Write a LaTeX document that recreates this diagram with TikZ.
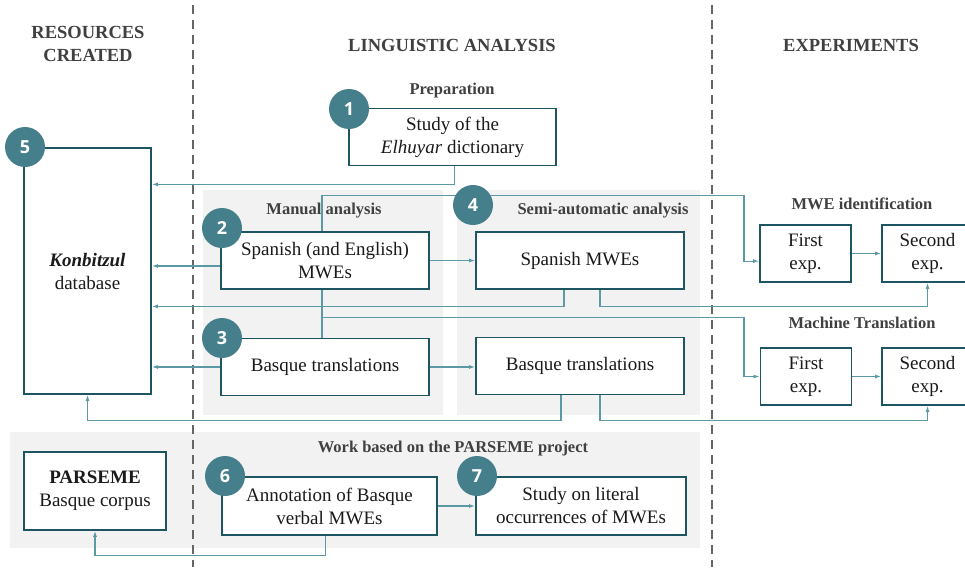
\documentclass[tikz,border=0pt]{standalone}
\usepackage{fontspec}
\setmainfont{Liberation Serif}
\newfontfamily\bodyfont{Liberation Serif}
\newfontfamily\numfont{Open Sans}
\usetikzlibrary{arrows.meta,calc}
\definecolor{boxc}{HTML}{1D5562}
\definecolor{circc}{HTML}{467F8C}
\definecolor{connc}{HTML}{5B9AA5}
\definecolor{panelc}{HTML}{F2F2F2}
\definecolor{headc}{HTML}{404040}
\definecolor{dashc}{HTML}{666666}
\definecolor{textc}{HTML}{1A1A1A}
\pgfdeclarelayer{back}
\pgfdeclarelayer{mid}
\pgfsetlayers{back,mid,main}
\tikzset{
  stepbox/.style={draw=boxc, line width=1.8pt, fill=white, align=center, inner sep=0pt,
    font=\bodyfont\fontsize{19}{23}\selectfont, text=textc},
  numcirc/.style={circle, fill=circc, minimum size=40pt, inner sep=0pt, text=white,
    font=\numfont\bfseries\fontsize{18}{18}\selectfont},
  heading/.style={font=\bodyfont\bfseries\fontsize{18.5}{23}\selectfont, text=headc, align=center},
  subhead/.style={font=\bodyfont\bfseries\fontsize{16.5}{19}\selectfont, text=headc},
  conn/.style={draw=connc, line width=1.1pt},
  arr/.style={conn, -{Latex[length=6pt,width=4pt]}},
  panel/.style={fill=panelc, draw=none},
  divider/.style={draw=dashc, line width=1.8pt, dash pattern=on 9pt off 6pt}
}
\begin{document}
\begin{tikzpicture}[x=1pt,y=-1pt]
\useasboundingbox (0,0) rectangle (965,567);
% panels
\begin{pgfonlayer}{back}
  \fill[panel] (203,190) rectangle (443,415);
  \fill[panel] (457,190) rectangle (700,415);
  \fill[panel] (10,432) rectangle (700,548);
\end{pgfonlayer}
% headings
\node[heading] (hres) at (88,44) {RESOURCES\\CREATED};
\node[heading] (hling) at (452,45) {LINGUISTIC ANALYSIS};
\node[heading] (hexp) at (851,45) {EXPERIMENTS};
\node[subhead] (hprep) at (452,91) {Preparation};
\node[subhead] (hman) at (324,211) {Manual analysis};
\node[subhead] (hsemi) at (603,211) {Semi-automatic analysis};
\node[subhead] (hid) at (862,204) {MWE identification};
\node[subhead] (hmt) at (862,323) {Machine Translation};
\node[subhead] (hpar) at (453,449) {Work based on the PARSEME project};
% boxes
\node[stepbox, minimum width=207pt, minimum height=57pt] (b1) at (452.5,137) {Study of the\\\textit{Elhuyar} dictionary};
\node[stepbox, minimum width=127pt, minimum height=246pt] (b5) at (87.5,271) {\textbf{\textit{Konbitzul}}\\database};
\node[stepbox, minimum width=208pt, minimum height=57pt] (b2) at (325,260.5) {Spanish (and English)\\MWEs};
\node[stepbox, minimum width=208pt, minimum height=57pt] (b3) at (325,367) {Basque translations};
\node[stepbox, minimum width=208pt, minimum height=57pt] (b4) at (580,260.5) {Spanish MWEs};
\node[stepbox, minimum width=208pt, minimum height=57pt] (b4b) at (580,366) {Basque translations};
\node[stepbox, minimum width=91pt, minimum height=57pt] (e1) at (805.5,253.5) {First\\exp.};
\node[stepbox, minimum width=91pt, minimum height=57pt] (e2) at (927.5,253.5) {Second\\exp.};
\node[stepbox, minimum width=91pt, minimum height=57pt] (m1) at (806,376.5) {First\\exp.};
\node[stepbox, minimum width=91pt, minimum height=57pt] (m2) at (927.5,376.5) {Second\\exp.};
\node[stepbox, minimum width=142pt, minimum height=78pt] (pb) at (95,491) {\textbf{PARSEME}\\Basque corpus};
\node[stepbox, minimum width=215pt, minimum height=58pt] (b6) at (329.5,506) {Annotation of Basque\\verbal MWEs};
\node[stepbox, minimum width=210pt, minimum height=58pt] (b7) at (581,506) {Study on literal\\occurrences of MWEs};
% circles
\node[numcirc] (c1) at (349,109) {1};
\node[numcirc] (c5) at (25,147) {5};
\node[numcirc] (c2) at (222,228) {2};
\node[numcirc] (c3) at (222,338) {3};
\node[numcirc] (c4) at (473,205) {4};
\node[numcirc] (c6) at (225,476) {6};
\node[numcirc] (c7) at (477,476) {7};
% connectors and dividers
\begin{pgfonlayer}{mid}
  \draw[divider] (193,5) -- (193,567);
  \draw[divider] (712,5) -- (712,567);
  % from dictionary to database
  \draw[arr] ($(b1.south)+(2,0)$) coordinate (s1) -- ($(s1)+(0,18)$) coordinate (s1b) -- (s1b -| b5.east);
  % from Spanish MWEs (manual) to MWE identification
  \draw[arr] ($(b2.north)+(-3,0)$) coordinate (s2) -- ($(s2)+(0,-36)$) coordinate (s2b) -- ($(s2b)+(422,0)$) coordinate (s2c) -- ($(s2c)+(0,66)$) coordinate (s2d) -- (s2d -| e1.west);
  % manual Spanish to database
  \draw[arr] ($(b2.west)+(0,5.5)$) coordinate (s3) -- (s3 -| b5.east);
  \draw[arr] (b2.east) -- (b4.west);
  % manual Spanish to manual Basque
  \draw[conn] ($(b2.south)+(-3,0)$) coordinate (s5) -- (s5 |- b3.north);
  \draw[arr] ($(s5)+(0,28)$) coordinate (s6) -- ($(s6)+(422,0)$) coordinate (s6b) -- (s6b |- m1.west) -- (m1.west);
  % semi Spanish to database and to second exp
  \draw[arr] ($(b4.south)+(-16,0)$) coordinate (s7) -- ($(s7)+(0,16.5)$) coordinate (s7b) -- (s7b -| b5.east);
  \draw[arr] ($(b4.south)+(20,0)$) coordinate (s8) -- ($(s8)+(0,16.5)$) coordinate (s8b) -- (s8b -| e2.south) -- (e2.south);
  % manual Basque
  \draw[arr] (b3.west) -- (b3.west -| b5.east);
  \draw[arr] (b3.east) -- (b3.east -| b4b.west);
  % semi Basque to database and to second exp (MT)
  \draw[arr] ($(b4b.south)+(-19,0)$) coordinate (s11) -- ($(s11)+(0,25.5)$) coordinate (s11b) -- (s11b -| b5.south) -- (b5.south);
  \draw[arr] ($(b4b.south)+(20,0)$) coordinate (s12) -- ($(s12)+(0,25.5)$) coordinate (s12b) -- (s12b -| m2.south) -- (m2.south);
  % experiments
  \draw[arr] (e1.east) -- (e2.west);
  \draw[arr] (m1.east) -- (m2.west);
  % PARSEME
  \draw[arr] ($(b6.south)+(-4,0)$) coordinate (s14) -- ($(s14)+(0,20)$) coordinate (s14b) -- (s14b -| pb.south) -- (pb.south);
  \draw[arr] (b6.east) -- (b7.west);
\end{pgfonlayer}
\end{tikzpicture}
\end{document}
